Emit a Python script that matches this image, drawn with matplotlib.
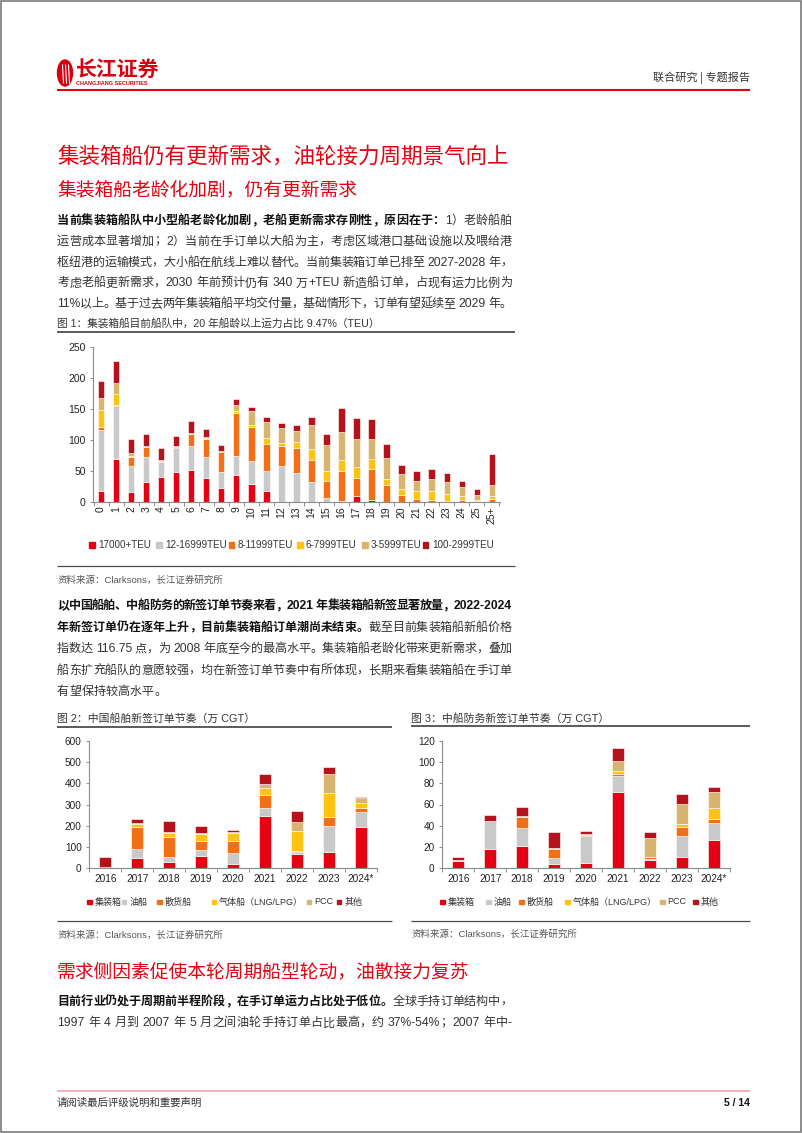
import re
import numpy as np
import matplotlib
matplotlib.use('Agg')
import matplotlib.pyplot as plt
from matplotlib.patches import Rectangle, Ellipse
from matplotlib.font_manager import FontProperties
from matplotlib.lines import Line2D
from matplotlib.ticker import FixedLocator

# ---------------- data ----------------
ages = ['0', '1', '2', '3', '4', '5', '6', '7', '8', '9', '10', '11', '12', '13',
        '14', '15', '16', '17', '18', '19', '20', '21', '22', '23', '24', '25', '25+']
teu_17000 = [18, 69, 16, 33, 40, 49, 52, 38, 23, 44, 29, 18, 0, 0, 0, 0, 0, 10, 3, 0, 0, 0, 0, 0, 0, 0, 0]
teu_12_16999 = [98, 86, 42, 39, 25, 38, 38, 35, 25, 30, 37, 32, 58, 47, 33, 7, 2, 0, 0, 0, 0, 0, 0, 0, 0, 0, 0]
teu_8_11999 = [5, 1, 15, 16, 1, 1, 19, 29, 32, 70, 55, 44, 32, 40, 34, 27, 48, 28, 51, 28, 12, 5, 3, 1, 4, 2, 5]
teu_6_7999 = [27, 18, 2, 1, 0.5, 1, 1, 1, 0.5, 2, 3, 10, 5, 10, 19, 16, 18, 19, 16, 9, 9, 13, 15, 12, 5, 2, 5]
teu_3_5999 = [19, 18, 4, 2, 1, 2, 2, 2, 1, 10, 22, 25, 24, 18, 39, 42, 45, 45, 32, 34, 24, 16, 19, 19, 16, 8, 18]
teu_100_2999 = [28, 36, 22, 18, 19, 15, 18, 13, 11, 10, 7, 8, 9, 9, 12, 17, 38, 34, 32, 22, 14, 16, 17, 14, 9, 9, 49]
fleet_labels = ['17000+TEU', '12-16999TEU', '8-11999TEU', '6-7999TEU', '3-5999TEU', '100-2999TEU']

years = ['2016', '2017', '2018', '2019', '2020', '2021', '2022', '2023', '2024*']
ship_labels = ['集装箱', '油船', '散货船', '气体船（LNG/LPG）', 'PCC', '其他']
csg_container = [6, 47, 28, 60, 19, 247, 68, 79, 196]
csg_tanker = [2, 44, 24, 26, 55, 37, 7, 120, 68]
csg_bulk = [0, 102, 94, 43, 56, 63, 8, 44, 22]
csg_gas = [0, 16, 20, 31, 35, 32, 94, 110, 23]
csg_pcc = [0, 3, 4, 6, 6, 18, 43, 91, 22]
csg_other = [47, 19, 55, 34, 11, 49, 50, 33, 7]

chd_container = [7, 18, 21, 4, 5, 71.5, 7.2, 10.4, 26.8]
chd_tanker = [0.5, 26, 17, 5.5, 25, 15.5, 1.3, 19.8, 15.7]
chd_bulk = [0, 0, 10, 8.5, 1.5, 1.5, 1.5, 8.5, 3.5]
chd_gas = [0, 0, 0.3, 1, 0.5, 3.2, 0.7, 3.2, 10.7]
chd_pcc = [0, 0.5, 0.5, 0, 0.5, 9.3, 17.3, 18.3, 14.8]
chd_other = [2.5, 6, 8.5, 15.3, 2.5, 12.4, 6, 9.8, 5.4]

COLORS = ['#E50012', '#C9C9C9', '#F36F15', '#FFC20E', '#D9B46F', '#B5121B']
RED = '#E50012'

# ---------------- figure ----------------
W, H = 802, 1133
fig = plt.figure(figsize=(W / 100, H / 100), dpi=100)
renderer = fig.canvas.get_renderer()

CJK = ['Liberation Sans', 'Noto Sans CJK SC', 'DejaVu Sans']
CJKH = ['Noto Sans CJK SC', 'DejaVu Sans']


def fx(x):
    return x / W


def fy(y):
    return 1 - y / H


def ptext(x, y, s, size, color='#333333', weight='normal', ha='left', va='center', family=CJK):
    fig.text(fx(x), fy(y), s, fontsize=size, color=color, fontweight=weight,
             ha=ha, va=va, family=family)


def hline(x0, x1, y, color, lw):
    fig.add_artist(Line2D([fx(x0), fx(x1)], [fy(y), fy(y)], color=color, lw=lw,
                          transform=fig.transFigure, solid_capstyle='butt'))


def tok_width(tok, prop):
    w1, _, _ = renderer.get_text_width_height_descent('中' + tok + '中', prop, ismath=False)
    w0, _, _ = renderer.get_text_width_height_descent('中中', prop, ismath=False)
    return w1 - w0


def para_line(x0, x1, y, runs, size, justify=True):
    toks = []
    for s, bold in runs:
        prop = FontProperties(family=CJK, size=size, weight='bold' if bold else 'normal')
        for t in re.findall(r'[A-Za-z0-9.\-+%/]+| |.', s):
            toks.append((t, bold, prop, tok_width(t, prop)))
    total = sum(t[3] for t in toks)
    n = len(toks)
    extra = ((x1 - x0) - total) / (n - 1) if (justify and n > 1) else 0
    x = x0
    for t, bold, prop, w in toks:
        if t != ' ':
            fig.text(fx(x), fy(y), t, fontproperties=prop,
                     color='#111111' if bold else '#333333', ha='left', va='center')
        x += w + extra


# page border
fig.add_artist(Rectangle((0.001, 0.001), 0.998, 0.998, fill=False, ec='#7a7a7a', lw=1.2,
                         transform=fig.transFigure))

# ---------------- header ----------------
fig.add_artist(Ellipse((fx(65), fy(73)), 15 / W, 26 / H, color='#D7000F', transform=fig.transFigure))
for dx in (-2.5, 0.5, 3.5):
    fig.add_artist(Line2D([fx(65 + dx), fx(65 + dx + 1)], [fy(65), fy(83)], color='white', lw=0.8,
                          transform=fig.transFigure))
ptext(76, 69, '长江证券', 15, color='#D7000F', weight='bold', family=CJKH)
ptext(76, 83.5, 'CHANGJIANG SECURITIES', 4.0, color='#D7000F', weight='bold')
ptext(750, 78, '联合研究 | 专题报告', 8, color='#333333', ha='right', family=CJKH)
hline(57, 750, 90, '#E50012', 1.5)

# ---------------- headings & paragraph 1 ----------------
ptext(57, 157, '集装箱船仍有更新需求，油轮接力周期景气向上', 15.5, color=RED, family=CJKH)
ptext(57, 190, '集装箱船老龄化加剧，仍有更新需求', 13.5, color=RED, family=CJKH)

BODY = 8.7
X0, X1 = 57, 512
p1 = [
    [('当前集装箱船队中小型船老龄化加剧，老船更新需求存刚性，原因在于：', True), ('1）老龄船舶', False)],
    [('运营成本显著增加；2）当前在手订单以大船为主，考虑区域港口基础设施以及喂给港', False)],
    [('枢纽港的运输模式，大小船在航线上难以替代。当前集装箱订单已排至 2027-2028 年，', False)],
    [('考虑老船更新需求，2030 年前预计仍有 340 万+TEU 新造船订单，占现有运力比例为', False)],
    [('11%以上。基于过去两年集装箱船平均交付量，基础情形下，订单有望延续至 2029 年。', False)],
]
for i, runs in enumerate(p1):
    para_line(X0, X1, 221 + 20.8 * i, runs, BODY)

# ---------------- figure 1 ----------------
ptext(57, 323, '图 1：集装箱船目前船队中，20 年船龄以上运力占比 9.47%（TEU）', 7.7, color='#333333')
hline(57, 515, 332, '#4d4d4d', 1.3)

ax1 = fig.add_axes([fx(93.3), fy(502), (500 - 93.3) / W, (502 - 347) / H])
series1 = [teu_17000, teu_12_16999, teu_8_11999, teu_6_7999, teu_3_5999, teu_100_2999]
x1 = np.arange(len(ages))
bottom = np.zeros(len(ages))
for vals, col in zip(series1, COLORS):
    ax1.bar(x1, vals, width=0.42, bottom=bottom, color=col, edgecolor='white', linewidth=0.4)
    bottom += np.array(vals, dtype=float)


def style_axis(ax, xlabels, yticks, xrot, xsize, ysize):
    for s in ('top', 'right'):
        ax.spines[s].set_visible(False)
    for s in ('left', 'bottom'):
        ax.spines[s].set_color('#8c8c8c')
        ax.spines[s].set_linewidth(0.8)
    ax.set_yticks(yticks)
    ax.set_yticklabels([str(v) for v in yticks], fontsize=ysize, family='Liberation Sans', color='#222222')
    ax.tick_params(axis='y', length=2.5, width=0.7, color='#8c8c8c', pad=3)
    n = len(xlabels)
    ax.set_xticks(np.arange(n))
    ax.set_xticklabels(xlabels, fontsize=xsize, family='Liberation Sans', rotation=xrot, color='#222222')
    ax.tick_params(axis='x', which='major', length=0, pad=4)
    ax.xaxis.set_minor_locator(FixedLocator(np.arange(-0.5, n, 1.0)))
    ax.tick_params(axis='x', which='minor', length=3, width=0.7, color='#8c8c8c')
    ax.set_facecolor('none')


ax1.set_xlim(-0.52, len(ages) - 1 + 0.55)
ax1.set_ylim(0, 250)
style_axis(ax1, ages, [0, 50, 100, 150, 200, 250], 90, 7.5, 7.5)
ax1.tick_params(axis='x', which='major', pad=3)


def legend_row(items, y, size, sq=5.5, gap=3.5):
    for x, label, color in items:
        fig.add_artist(Rectangle((fx(x), fy(y + sq / 2)), sq / W, sq / H, color=color,
                                 transform=fig.transFigure))
        ptext(x + sq + gap, y, label, size, color='#333333')


leg1_x = [89, 156, 229, 297, 362, 423]
legend_row(list(zip(leg1_x, fleet_labels, COLORS)), 545, 7.1)

hline(57, 515, 566, '#4d4d4d', 0.9)
ptext(57, 580, '资料来源：Clarksons，长江证券研究所', 6.8, color='#555555')

# ---------------- paragraph 2 ----------------
p2 = [
    [('以中国船舶、中船防务的新签订单节奏来看，2021 年集装箱船新签显著放量，2022-2024', True)],
    [('年新签订单仍在逐年上升，目前集装箱船订单潮尚未结束。', True), ('截至目前集装箱船新船价格', False)],
    [('指数达 116.75 点，为 2008 年底至今的最高水平。集装箱船老龄化带来更新需求，叠加', False)],
    [('船东扩充船队的意愿较强，均在新签订单节奏中有所体现，长期来看集装箱船在手订单', False)],
    [('有望保持较高水平。', False)],
]
for i, runs in enumerate(p2):
    para_line(X0, X1, 606 + 21.6 * i, runs, BODY, justify=(i < len(p2) - 1))

# ---------------- figures 2 and 3 ----------------
ptext(57, 718, '图 2：中国船舶新签订单节奏（万 CGT）', 7.8, color='#333333')
hline(57, 392, 727, '#4d4d4d', 1.3)
ptext(411, 718, '图 3：中船防务新签订单节奏（万 CGT）', 7.8, color='#333333')
hline(411, 750, 726, '#4d4d4d', 1.3)


def stacked(ax, series):
    xs = np.arange(len(years))
    b = np.zeros(len(years))
    for vals, col in zip(series, COLORS):
        ax.bar(xs, vals, width=0.38, bottom=b, color=col, edgecolor='white', linewidth=0.4)
        b += np.array(vals, dtype=float)


ax2 = fig.add_axes([fx(89.3), fy(868.3), (376.7 - 89.3) / W, (868.3 - 741) / H])
stacked(ax2, [csg_container, csg_tanker, csg_bulk, csg_gas, csg_pcc, csg_other])
ax2.set_xlim(-0.5, len(years) - 0.5)
ax2.set_ylim(0, 600)
style_axis(ax2, years, [0, 100, 200, 300, 400, 500, 600], 0, 7.3, 7.2)

ax3 = fig.add_axes([fx(442.3), fy(868), (730 - 442.3) / W, (868 - 741) / H])
stacked(ax3, [chd_container, chd_tanker, chd_bulk, chd_gas, chd_pcc, chd_other])
ax3.set_xlim(-0.5, len(years) - 0.5)
ax3.set_ylim(0, 120)
style_axis(ax3, years, [0, 20, 40, 60, 80, 100, 120], 0, 7.3, 7.2)

leg2_x = [87, 121.7, 157, 211.7, 306.7, 336.7]
legend_row(list(zip(leg2_x, ship_labels, COLORS)), 902, 6.5, sq=4.5, gap=3)
leg3_x = [440, 486, 519, 565, 660, 693]
legend_row(list(zip(leg3_x, ship_labels, COLORS)), 902, 6.5, sq=4.5, gap=3)

hline(57, 392, 921, '#4d4d4d', 0.9)
hline(411, 750, 921, '#4d4d4d', 0.9)
ptext(57, 935, '资料来源：Clarksons，长江证券研究所', 6.8, color='#555555')
ptext(411, 934, '资料来源：Clarksons，长江证券研究所', 6.8, color='#555555')

# ---------------- heading 3 & paragraph 3 ----------------
ptext(57, 972, '需求侧因素促使本轮周期船型轮动，油散接力复苏', 13.5, color=RED, family=CJKH)
p3 = [
    [('目前行业仍处于周期前半程阶段，在手订单运力占比处于低位。', True), ('全球手持订单结构中，', False)],
    [('1997 年 4 月到 2007 年 5 月之间油轮手持订单占比最高，约 37%-54%；2007 年中-', False)],
]
for i, runs in enumerate(p3):
    para_line(X0, X1, 1002 + 21.3 * i, runs, BODY)

# ---------------- footer ----------------
hline(57, 750, 1091, '#F4A3A8', 1.2)
ptext(57, 1103, '请阅读最后评级说明和重要声明', 7.5, color='#333333', family=CJKH)
ptext(750, 1103, '5 / 14', 7.5, color='#111111', weight='bold', ha='right')

fig.savefig('out.png', dpi=100)
